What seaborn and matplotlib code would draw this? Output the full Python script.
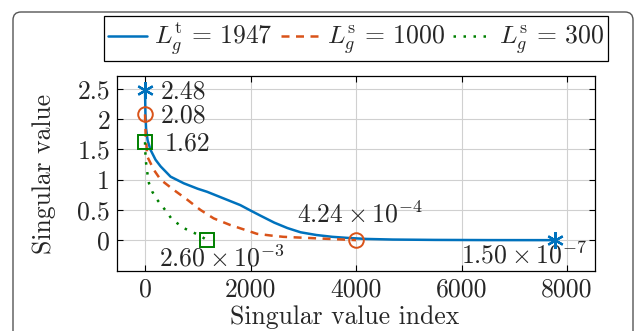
import numpy as np
import pandas as pd
import matplotlib
matplotlib.use("Agg")
import matplotlib.pyplot as plt
import seaborn as sns
from matplotlib.patches import FancyBboxPatch

# ---- data ----
blue_x = [1, 8, 20, 50, 107, 200, 296, 485, 736, 1000, 1177, 1491, 1806, 2000, 2200, 2450, 2700, 2950, 3250, 3550, 3880, 4200, 4700, 5500, 6500, 7770]
blue_y = [2.48, 2.1, 1.85, 1.65, 1.49, 1.33, 1.22, 1.05, 0.94, 0.85, 0.80, 0.69, 0.58, 0.49, 0.40, 0.29, 0.20, 0.13, 0.085, 0.055, 0.035, 0.02, 0.01, 0.004, 0.001, 1.5e-7]
orange_x = [1, 12, 45, 170, 296, 547, 800, 1051, 1302, 1617, 1932, 2121, 2400, 2623, 3253, 3755, 4000]
orange_y = [2.08, 1.75, 1.38, 1.16, 1.0, 0.83, 0.67, 0.50, 0.36, 0.25, 0.16, 0.105, 0.075, 0.055, 0.03, 0.01, 4.24e-4]
green_x = [1, 5, 13, 45, 76, 139, 221, 309, 409, 498, 611, 736, 875, 1019, 1170]
green_y = [1.62, 1.5, 1.33, 1.11, 0.94, 0.80, 0.68, 0.58, 0.47, 0.36, 0.28, 0.20, 0.14, 0.088, 2.6e-3]
labels = [r"$L_g^{\mathrm{t}}\,=\,1947$", r"$L_g^{\mathrm{s}}\,=\,1000$", r"$L_g^{\mathrm{s}}\,=\,300$"]
first_text = ["2.48", "2.08", "1.62"]
last_text = [r"$1.50\times10^{-7}$", r"$4.24\times10^{-4}$", r"$2.60\times10^{-3}$"]
yticks = [0, 0.5, 1, 1.5, 2, 2.5]
ytick_labels = ["0", "0.5", "1", "1.5", "2", "2.5"]
xticks = [0, 2000, 4000, 6000, 8000]

sns.set_theme(style="whitegrid")
plt.rcParams.update({
    "font.family": "serif",
    "font.serif": ["cmr10"],
    "mathtext.fontset": "cm",
    "axes.formatter.use_mathtext": True,
    "axes.unicode_minus": False,
})

colors = ["#0072BD", "#D95319", "#008000"]
styles = ["-", (0, (3.2, 2.6)), (0, (1, 3.0))]
markers = [(6, 2, 0), "o", "s"]

df = pd.concat([
    pd.DataFrame({"idx": blue_x, "sv": blue_y, "series": labels[0]}),
    pd.DataFrame({"idx": orange_x, "sv": orange_y, "series": labels[1]}),
    pd.DataFrame({"idx": green_x, "sv": green_y, "series": labels[2]}),
])

fig = plt.figure(figsize=(6.35, 3.31), dpi=100)
ax = fig.add_axes([0.1843, 0.1813, 0.7527, 0.5891])

for i, lab in enumerate(labels):
    sub = df[df["series"] == lab]
    sns.lineplot(data=sub, x="idx", y="sv", ax=ax, color=colors[i], lw=1.8,
                 linestyle=styles[i], label=lab, sort=False, estimator=None)
    for j in (0, -1):
        xv = sub["idx"].iloc[j]; yv = sub["sv"].iloc[j]
        if i == 0:
            ax.plot([xv], [yv], marker=markers[i], ms=12, mew=1.6, color=colors[i], ls="none", zorder=5)
        else:
            ax.plot([xv], [yv], marker=markers[i], ms=10.5, mew=1.4, mfc="none", mec=colors[i], ls="none", zorder=5)

fs = 18.5
# first value annotations
for i, lab in enumerate(labels):
    sub = df[df["series"] == lab]
    xv = sub["idx"].iloc[0]; yv = sub["sv"].iloc[0]
    dx = 11 if i < 2 else 14.5
    ax.annotate(first_text[i], (xv, yv), xytext=(dx, -1), textcoords="offset points",
                ha="left", va="center", fontsize=fs)

# last value annotations
sub = df[df["series"] == labels[0]]
ax.annotate(last_text[0], (sub["idx"].iloc[-1], sub["sv"].iloc[-1]), xytext=(-22, -16.6),
            textcoords="offset points", ha="center", va="baseline", fontsize=fs)
sub = df[df["series"] == labels[1]]
ax.annotate(last_text[1], (sub["idx"].iloc[-1], sub["sv"].iloc[-1]), xytext=(3, 12.5),
            textcoords="offset points", ha="center", va="baseline", fontsize=fs)
sub = df[df["series"] == labels[2]]
ax.annotate(last_text[2], (sub["idx"].iloc[-1], sub["sv"].iloc[-1]), xytext=(11, -19),
            textcoords="offset points", ha="center", va="baseline", fontsize=fs)

ax.set_xlim(-530, 8530)
ax.set_ylim(-0.51, 2.715)
ax.set_xticks(xticks)
ax.set_xticklabels([str(t) for t in xticks])
ax.set_yticks(yticks)
ax.set_yticklabels(ytick_labels)
ax.tick_params(labelsize=fs, direction="in", length=4, width=0.8, color="black",
               top=True, right=True, bottom=True, left=True, pad=5)
ax.grid(True, color="#d0d0d0", lw=0.8)
for s in ax.spines.values():
    s.set_color("black"); s.set_linewidth(0.9)
ax.set_facecolor("white")
ax.set_xlabel("Singular value index", fontsize=fs)
ax.set_ylabel("Singular value", fontsize=fs)
ax.xaxis.set_label_coords(0.476, -0.175)
ax.yaxis.set_label_coords(-0.128, 0.5)

leg = ax.legend(loc="lower center", bbox_to_anchor=(0.5, 1.077), ncol=3, fontsize=fs,
                frameon=True, fancybox=False, edgecolor="black", framealpha=1,
                handlelength=1.5, handletextpad=0.3, columnspacing=0.3, borderpad=0.15,
                borderaxespad=0)
leg.get_frame().set_linewidth(0.9)

# outer panel frame (pixel coordinates)
frame = FancyBboxPatch((13, -20), 620, 339, boxstyle="round,pad=0,rounding_size=8",
                       transform=None, fill=False, ec="#555555", lw=1.0)
fig.patches.append(frame)

fig.savefig("out.png", dpi=100)
